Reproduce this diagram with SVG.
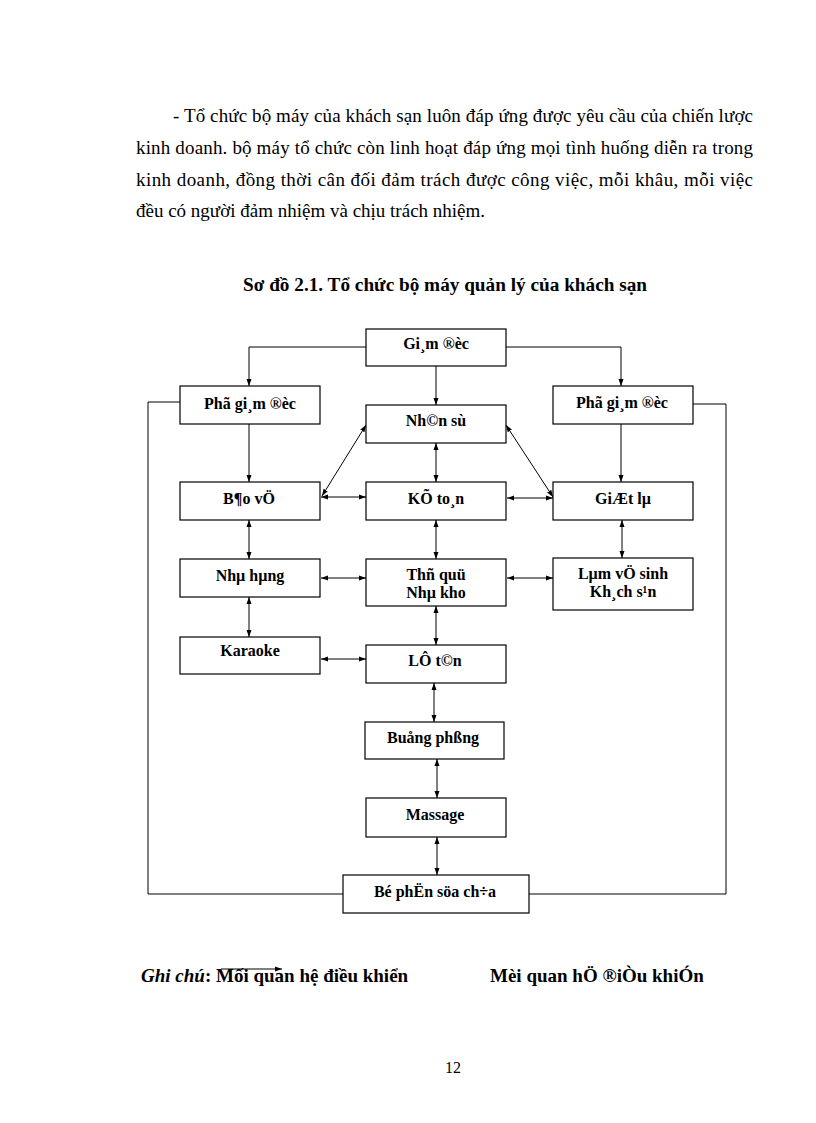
<svg xmlns="http://www.w3.org/2000/svg" width="816" height="1123" viewBox="0 0 816 1123">
<style>
.para{font-family:"Liberation Serif","Times New Roman",serif;font-size:19px;fill:#000}
.pnum{font-family:"Liberation Serif","Times New Roman",serif;font-size:16px;fill:#000;text-anchor:middle}
.title{font-family:"Liberation Serif","Times New Roman",serif;font-size:18px;font-weight:bold;fill:#000}
.box{fill:#fff;stroke:#000;stroke-width:1.2}
.lbl{font-family:"Liberation Serif","Times New Roman",serif;font-size:16px;font-weight:bold;fill:#000;text-anchor:middle}
.ln{fill:none;stroke:#000;stroke-width:1}
.one{marker-end:url(#ah)}
.two{marker-start:url(#ah);marker-end:url(#ah)}
.leg{font-family:"Liberation Serif","Times New Roman",serif;font-size:19px;font-weight:bold;fill:#000}
</style>
<defs>
<marker id="ah" markerUnits="userSpaceOnUse" markerWidth="8" markerHeight="6" refX="7" refY="3" orient="auto-start-reverse">
<path d="M0,0.5 L7,3 L0,5.5 z" fill="#000"/>
</marker>
</defs>
<rect width="816" height="1123" fill="#fff"/>

<g id="paragraph">
<text class="para" x="173" y="122" textLength="580" lengthAdjust="spacing">- Tổ chức bộ máy của khách sạn luôn đáp ứng được yêu cầu của chiến lược</text>
<text class="para" x="136" y="154" textLength="617" lengthAdjust="spacing">kinh doanh. bộ máy tổ chức còn linh hoạt đáp ứng mọi tình huống diễn ra trong</text>
<text class="para" x="136" y="186" textLength="617" lengthAdjust="spacing">kinh doanh, đồng thời cân đối đảm trách được công việc, mỗi khâu, mỗi việc</text>
<text class="para" x="136" y="217">đều có người đảm nhiệm và chịu trách nhiệm.</text>
</g>

<g id="title">
<text class="title" x="243" y="291" textLength="404" lengthAdjust="spacingAndGlyphs">Sơ đồ 2.1. Tổ chức bộ máy quản lý của khách sạn</text>
</g>

<g id="connectors">
<polyline class="ln one" points="366,347 249,347 249,386"/>
<polyline class="ln one" points="506,347 621,347 621,386"/>
<line class="ln one" x1="436" y1="366" x2="436" y2="405"/>
<line class="ln one" x1="249" y1="424" x2="249" y2="482"/>
<line class="ln one" x1="621" y1="424" x2="621" y2="482"/>
<line class="ln two" x1="436" y1="443" x2="436" y2="482"/>
<line class="ln two" x1="366" y1="425" x2="322" y2="496"/>
<line class="ln two" x1="506" y1="425" x2="553" y2="497"/>
<line class="ln two" x1="321" y1="497" x2="366" y2="497"/>
<line class="ln two" x1="507" y1="498" x2="553" y2="498"/>
<line class="ln two" x1="249" y1="520" x2="249" y2="559"/>
<line class="ln two" x1="436" y1="520" x2="436" y2="559"/>
<line class="ln two" x1="622" y1="520" x2="622" y2="558"/>
<line class="ln two" x1="321" y1="578" x2="366" y2="578"/>
<line class="ln two" x1="507" y1="578" x2="553" y2="578"/>
<line class="ln two" x1="249" y1="597" x2="249" y2="637"/>
<line class="ln two" x1="436" y1="606" x2="436" y2="645"/>
<line class="ln two" x1="321" y1="659" x2="366" y2="659"/>
<line class="ln two" x1="434" y1="683" x2="434" y2="722"/>
<line class="ln two" x1="437" y1="759" x2="437" y2="798"/>
<line class="ln two" x1="437" y1="837" x2="437" y2="875"/>
<polyline class="ln" points="180,402 148,402 148,894 343,894"/>
<polyline class="ln" points="693,404 726,404 726,894 529,894"/>
</g>

<g id="n-giamdoc"><rect class="box" x="366" y="329" width="140" height="37"/><text class="lbl" x="436" y="349">Gi¸m ®èc</text></g>
<g id="n-phogd-left"><rect class="box" x="180" y="386" width="140" height="38"/><text class="lbl" x="250" y="409">Phã  gi¸m ®èc</text></g>
<g id="n-phogd-right"><rect class="box" x="553" y="386" width="140" height="38"/><text class="lbl" x="622" y="408">Phã  gi¸m ®èc</text></g>
<g id="n-nhansu"><rect class="box" x="366" y="405" width="140" height="38"/><text class="lbl" x="436" y="426">Nh©n sù</text></g>
<g id="n-baove"><rect class="box" x="180" y="482" width="140" height="38"/><text class="lbl" x="249" y="504">B¶o vÖ</text></g>
<g id="n-ketoan"><rect class="box" x="366" y="482" width="140" height="38"/><text class="lbl" x="436" y="504">KÕ to¸n</text></g>
<g id="n-giatla"><rect class="box" x="553" y="482" width="140" height="38"/><text class="lbl" x="623" y="504">GiÆt lµ</text></g>
<g id="n-nhahang"><rect class="box" x="180" y="559" width="140" height="38"/><text class="lbl" x="250" y="581">Nhµ hµng</text></g>
<g id="n-thuquy"><rect class="box" x="366" y="559" width="140" height="47"/><text class="lbl" x="436" y="580">Thñ  quü</text><text class="lbl" x="436" y="598">Nhµ kho</text></g>
<g id="n-vesinh"><rect class="box" x="553" y="558" width="140" height="52"/><text class="lbl" x="623" y="579">Lµm  vÖ sinh</text><text class="lbl" x="623" y="597">Kh¸ch  s¹n</text></g>
<g id="n-karaoke"><rect class="box" x="180" y="637" width="140" height="37"/><text class="lbl" x="250" y="656">Karaoke</text></g>
<g id="n-letan"><rect class="box" x="366" y="645" width="140" height="38"/><text class="lbl" x="435" y="666">LÔ t©n</text></g>
<g id="n-buongphong"><rect class="box" x="365" y="722" width="139" height="37"/><text class="lbl" x="433" y="743">Buång  phßng</text></g>
<g id="n-massage"><rect class="box" x="366" y="798" width="140" height="39"/><text class="lbl" x="435" y="820">Massage</text></g>
<g id="n-suachua"><rect class="box" x="343" y="875" width="186" height="38"/><text class="lbl" x="435" y="897">Bé phËn  söa ch÷a</text></g>

<g id="legend">
<text class="leg" x="141" y="982"><tspan font-style="italic">Ghi chú</tspan>: Mối quan hệ  điều khiển</text>
<line class="ln one" x1="221" y1="969" x2="282" y2="969"/>
<text class="leg" x="490" y="982">Mèi quan hÖ ®iÒu khiÓn</text>
</g>

<g id="page-number">
<text class="pnum" x="453" y="1073">12</text>
</g>
</svg>
